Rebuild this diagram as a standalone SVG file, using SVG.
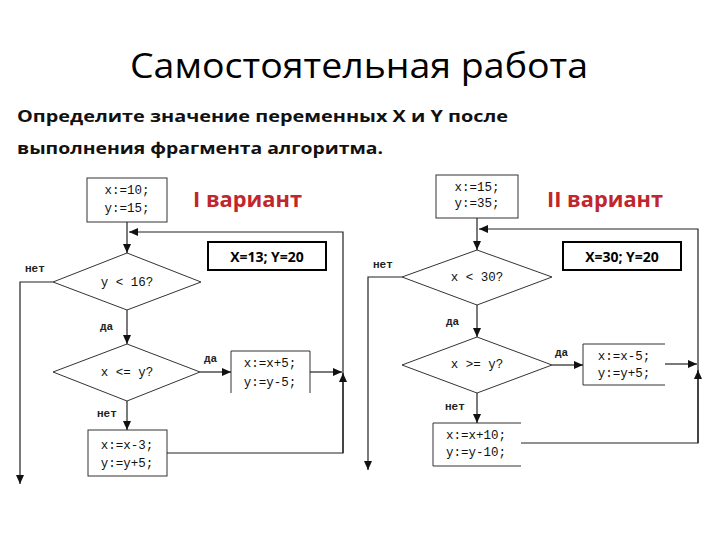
<svg xmlns="http://www.w3.org/2000/svg" width="720" height="540" viewBox="0 0 720 540">
<defs>
<marker id="ah" markerUnits="userSpaceOnUse" markerWidth="10" markerHeight="8" refX="9" refY="4" orient="auto">
<path d="M0,0 L9,4 L0,8 Z" fill="#111"/>
</marker>
<style>
.title{font-family:"Open Sans","Liberation Sans",sans-serif;font-size:35px;fill:#000}
.sub{font-family:"Open Sans","Liberation Sans",sans-serif;font-size:16px;font-weight:bold;fill:#111}
.var{font-family:"Open Sans","Liberation Sans",sans-serif;font-size:21px;font-weight:bold;fill:#c0262c}
.ans{font-family:"Open Sans","Liberation Sans",sans-serif;font-size:14px;font-weight:bold;fill:#000;text-anchor:middle}
.code{font-family:"Liberation Mono","DejaVu Sans Mono",monospace;font-size:12.5px;fill:#111;text-anchor:middle}
.lbl{font-family:"Liberation Mono","DejaVu Sans Mono",monospace;font-size:11px;font-weight:bold;fill:#222}
.shape{fill:#fff;stroke:#333;stroke-width:1}
.open{fill:none;stroke:#333;stroke-width:1}
.ansbox{fill:#fff;stroke:#000;stroke-width:2}
.conn path{fill:none;stroke:#222;stroke-width:1.2}
</style>
</defs>
<rect width="720" height="540" fill="#fff"/>
<text class="title" x="130" y="78" textLength="458" lengthAdjust="spacingAndGlyphs">Самостоятельная работа</text>
<text class="sub" x="17" y="122" textLength="491" lengthAdjust="spacingAndGlyphs">Определите значение переменных X и Y после</text>
<text class="sub" x="17" y="154" textLength="366" lengthAdjust="spacingAndGlyphs">выполнения фрагмента алгоритма.</text>

<g id="variant1-title"><text class="var" x="193" y="207" textLength="109" lengthAdjust="spacingAndGlyphs">I вариант</text></g>
<g id="variant2-title"><text class="var" x="547" y="207" textLength="116" lengthAdjust="spacingAndGlyphs">II вариант</text></g>

<g id="answer1"><rect class="ansbox" x="208" y="242" width="118" height="28"/><text class="ans" x="267" y="262">X=13; Y=20</text></g>
<g id="answer2"><rect class="ansbox" x="563" y="242" width="118" height="28"/><text class="ans" x="622" y="262">X=30; Y=20</text></g>

<!-- Variant I -->
<g id="v1-init"><rect class="shape" x="87" y="178" width="80" height="44"/><text class="code" x="127" y="194">x:=10;</text><text class="code" x="127" y="212">y:=15;</text></g>
<g id="v1-cond1"><polygon class="shape" points="127,253 201,282 127,310 53,282"/><text class="code" x="127" y="286">y &lt; 16?</text></g>
<g id="v1-cond2"><polygon class="shape" points="127,344 200,372 127,401 53,372"/><text class="code" x="127" y="376">x &lt;= y?</text></g>
<g id="v1-yes"><path class="open" d="M231,393 V351 H310 V393"/><text class="code" x="270" y="367">x:=x+5;</text><text class="code" x="270" y="386">y:=y-5;</text></g>
<g id="v1-no"><rect class="shape" x="88" y="430" width="79" height="46"/><text class="code" x="127" y="449">x:=x-3;</text><text class="code" x="127" y="467">y:=y+5;</text></g>

<!-- Variant II -->
<g id="v2-init"><rect class="shape" x="436" y="175" width="82" height="43"/><text class="code" x="477" y="191">x:=15;</text><text class="code" x="477" y="207">y:=35;</text></g>
<g id="v2-cond1"><polygon class="shape" points="477,250 552,277 477,305 402,277"/><text class="code" x="477" y="281">x &lt; 30?</text></g>
<g id="v2-cond2"><polygon class="shape" points="477,337 552,365 477,393 402,365"/><text class="code" x="477" y="368">x &gt;= y?</text></g>
<g id="v2-yes"><path class="open" d="M665,344 H583 V385 H665"/><text class="code" x="624" y="360">x:=x-5;</text><text class="code" x="624" y="377">y:=y+5;</text></g>
<g id="v2-no"><path class="open" d="M521,423 H433 V466 H521"/><text class="code" x="476" y="439">x:=x+10;</text><text class="code" x="476" y="456">y:=y-10;</text></g>

<g id="connectors" class="conn">
<path d="M127,222 V253" marker-end="url(#ah)"/>
<path d="M343,453 V232 H129" marker-end="url(#ah)"/>
<path d="M310,372 H342" marker-end="url(#ah)"/>
<path d="M167,453 H343 V373" marker-end="url(#ah)"/>
<path d="M53,282 H20 V484" marker-end="url(#ah)"/>
<path d="M127,310 V344" marker-end="url(#ah)"/>
<path d="M200,372 H231" marker-end="url(#ah)"/>
<path d="M127,401 V430" marker-end="url(#ah)"/>

<path d="M477,218 V250" marker-end="url(#ah)"/>
<path d="M698,443 V229 H479" marker-end="url(#ah)"/>
<path d="M665,364 H697" marker-end="url(#ah)"/>
<path d="M521,443 H698 V370" marker-end="url(#ah)"/>
<path d="M402,277 H368 V470" marker-end="url(#ah)"/>
<path d="M477,305 V337" marker-end="url(#ah)"/>
<path d="M552,365 H583" marker-end="url(#ah)"/>
<path d="M477,393 V423" marker-end="url(#ah)"/>
</g>

<g id="labels">
<text class="lbl" x="25" y="272">нет</text>
<text class="lbl" x="100" y="330">да</text>
<text class="lbl" x="204" y="362">да</text>
<text class="lbl" x="97" y="417">нет</text>
<text class="lbl" x="373" y="268">нет</text>
<text class="lbl" x="446" y="325">да</text>
<text class="lbl" x="555" y="356">да</text>
<text class="lbl" x="445" y="410">нет</text>
</g>
</svg>
